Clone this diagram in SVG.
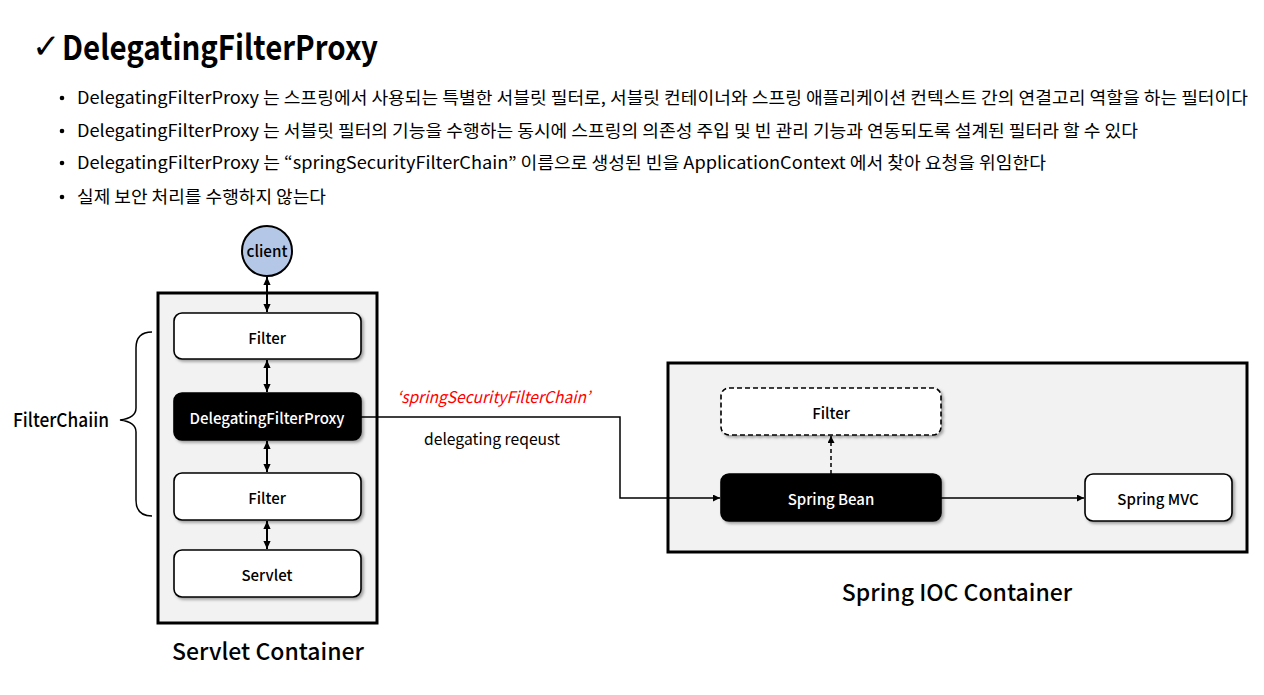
<svg xmlns="http://www.w3.org/2000/svg" width="1264" height="695" viewBox="0 0 1264 695">
<defs>
  <style>
    text { font-family: "Noto Sans CJK KR", "Noto Sans", "Liberation Sans", sans-serif; fill: #000; }
    .bullet { font-size: 17px; }
    .node { font-size: 15px; font-weight: 500; text-anchor: middle; dominant-baseline: central; }
    .white { fill: #fff; }
    .box { fill: #fff; stroke: #000; stroke-width: 1.6; }
    .dark { fill: #000; stroke: #000; stroke-width: 1.6; }
    .container { fill: #f2f2f2; stroke: #000; stroke-width: 3; }
    .conn { fill: none; stroke: #000; stroke-width: 1.5; }
    .vconn { fill: none; stroke: #000; stroke-width: 2; }
    .cap { font-size: 23px; font-weight: 500; text-anchor: middle; }
  </style>
  <filter id="sh" x="-10%" y="-20%" width="125%" height="150%">
    <feDropShadow dx="2" dy="2" stdDeviation="1.5" flood-color="#000" flood-opacity="0.35"/>
  </filter>
  <marker id="ah" viewBox="0 0 10 10" refX="10" refY="5" markerWidth="7" markerHeight="7" markerUnits="userSpaceOnUse" orient="auto-start-reverse">
    <path d="M0,0 L10,5 L0,10 z" fill="#000"/>
  </marker>
  <marker id="ah2" viewBox="0 0 10 10" refX="10" refY="5" markerWidth="8" markerHeight="8" markerUnits="userSpaceOnUse" orient="auto-start-reverse">
    <path d="M0,0.5 L10,5 L0,9.5 z" fill="#000"/>
  </marker>
</defs>
<rect width="1264" height="695" fill="#fff"/>

<g id="title">
  <text x="32" y="58" style="font-family:'DejaVu Sans',sans-serif;font-size:34px;">✓</text>
  <text x="62" y="60" style="font-size:34px;font-weight:600;" textLength="316" lengthAdjust="spacingAndGlyphs">DelegatingFilterProxy</text>
</g>

<g id="bullets">
  <circle cx="62" cy="98" r="2.3" fill="#000"/>
  <text class="bullet" x="77" y="104" textLength="1171" lengthAdjust="spacingAndGlyphs">DelegatingFilterProxy 는 스프링에서 사용되는 특별한 서블릿 필터로, 서블릿 컨테이너와 스프링 애플리케이션 컨텍스트 간의 연결고리 역할을 하는 필터이다</text>
  <circle cx="62" cy="131" r="2.3" fill="#000"/>
  <text class="bullet" x="77" y="137" textLength="1061" lengthAdjust="spacingAndGlyphs">DelegatingFilterProxy 는 서블릿 필터의 기능을 수행하는 동시에 스프링의 의존성 주입 및 빈 관리 기능과 연동되도록 설계된 필터라 할 수 있다</text>
  <circle cx="62" cy="163" r="2.3" fill="#000"/>
  <text class="bullet" x="77" y="169" textLength="969" lengthAdjust="spacingAndGlyphs">DelegatingFilterProxy 는 “springSecurityFilterChain” 이름으로 생성된 빈을 ApplicationContext 에서 찾아 요청을 위임한다</text>
  <circle cx="62" cy="197" r="2.3" fill="#000"/>
  <text class="bullet" x="77" y="203" textLength="249" lengthAdjust="spacingAndGlyphs">실제 보안 처리를 수행하지 않는다</text>
</g>

<g id="servlet-container">
  <rect class="container" x="158" y="293" width="219" height="330"/>
  <text class="cap" x="268" y="660">Servlet Container</text>
</g>

<g id="ioc-container">
  <rect class="container" x="668" y="363" width="579" height="189"/>
  <text class="cap" x="957" y="601">Spring IOC Container</text>
</g>

<g id="client">
  <circle cx="267" cy="251" r="25" fill="#b4c7e7" stroke="#000" stroke-width="2"/>
  <text class="node" x="267" y="250" style="font-size:16px;" textLength="41" lengthAdjust="spacingAndGlyphs">client</text>
</g>

<g id="filter1">
  <rect class="box" x="174" y="313" width="187" height="46" rx="8" filter="url(#sh)"/>
  <text class="node" x="267" y="337">Filter</text>
</g>

<g id="dfp">
  <rect class="dark" x="174" y="393" width="187" height="47" rx="8" filter="url(#sh)"/>
  <text class="node white" x="267" y="417" textLength="155" lengthAdjust="spacingAndGlyphs">DelegatingFilterProxy</text>
</g>

<g id="filter2">
  <rect class="box" x="174" y="473" width="187" height="47" rx="8" filter="url(#sh)"/>
  <text class="node" x="267" y="497">Filter</text>
</g>

<g id="servlet">
  <rect class="box" x="174" y="550" width="187" height="47" rx="8" filter="url(#sh)"/>
  <text class="node" x="267" y="574">Servlet</text>
</g>

<g id="filter-chain-label">
  <text x="13" y="427" style="font-size:19px;font-weight:500;" textLength="96" lengthAdjust="spacingAndGlyphs">FilterChaiin</text>
  <path class="conn" d="M152,332 Q136,332 136,348 L136,408 Q136,418 120,420 Q136,422 136,432 L136,500 Q136,516 152,516"/>
</g>

<g id="ioc-filter">
  <rect class="box" x="721" y="388" width="220" height="47" rx="8" stroke-dasharray="5,3" filter="url(#sh)"/>
  <text class="node" x="831" y="412">Filter</text>
</g>

<g id="spring-bean">
  <rect class="dark" x="721" y="474" width="220" height="47" rx="8" filter="url(#sh)"/>
  <text class="node white" x="831" y="498">Spring Bean</text>
</g>

<g id="spring-mvc">
  <rect class="box" x="1085" y="474" width="147" height="47" rx="8" filter="url(#sh)"/>
  <text class="node" x="1158" y="498">Spring MVC</text>
</g>

<g id="connectors">
  <line class="vconn" x1="267" y1="277" x2="267" y2="312" marker-start="url(#ah2)" marker-end="url(#ah2)"/>
  <line class="vconn" x1="267" y1="360" x2="267" y2="392" marker-start="url(#ah2)" marker-end="url(#ah2)"/>
  <line class="vconn" x1="267" y1="441" x2="267" y2="472" marker-start="url(#ah2)" marker-end="url(#ah2)"/>
  <line class="vconn" x1="267" y1="521" x2="267" y2="549" marker-start="url(#ah2)" marker-end="url(#ah2)"/>
  <polyline class="conn" points="361,417 620,417 620,498 720,498" marker-end="url(#ah)"/>
  <line class="conn" x1="831" y1="474" x2="831" y2="436" stroke-dasharray="4,3" marker-end="url(#ah)"/>
  <line class="conn" x1="941" y1="498" x2="1084" y2="498" marker-end="url(#ah)"/>
  <text x="397" y="403" style="font-size:16px;font-style:italic;fill:#ff0000;" textLength="193" lengthAdjust="spacingAndGlyphs">‘springSecurityFilterChain’</text>
  <text x="424" y="445" style="font-size:16px;" textLength="136" lengthAdjust="spacingAndGlyphs">delegating reqeust</text>
</g>
</svg>
